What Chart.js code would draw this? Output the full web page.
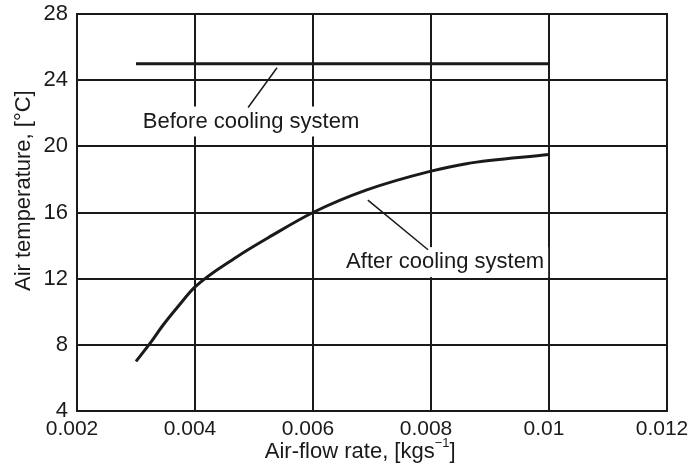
<!DOCTYPE html>
<html>
<head>
<meta charset="utf-8">
<script src="https://cdn.jsdelivr.net/npm/chart.js@4/dist/chart.umd.min.js"></script>
<style>
  body { margin: 0; background: #fff; }
  canvas { display: block; }
</style>
</head>
<body>
<canvas id="tempChart" width="688" height="467"></canvas>
<script>
// values
const beforeFlow = [0.003, 0.01];
const beforeTemp = [25, 25];
const afterFlow = [0.0030, 0.00324, 0.00346, 0.00372, 0.0040, 0.0047, 0.0053, 0.0060, 0.0069, 0.0080, 0.0086, 0.0100];
const afterTemp = [7.0, 8.1, 9.2, 10.35, 11.5, 13.3, 14.6, 16.0, 17.35, 18.5, 18.95, 19.5];
const xTicks = [0.002, 0.004, 0.006, 0.008, 0.01, 0.012];
const yTicks = [4, 8, 12, 16, 20, 24, 28];

// callout labels: text position and leader line, in data units
const callouts = [
  { text: 'Before cooling system', x: 0.00495, y: 21.5, from: [0.0049, 22.35], to: [0.00539, 24.75] },
  { text: 'After cooling system', x: 0.00824, y: 13.0, from: [0.00795, 13.75], to: [0.00693, 16.75] }
];

const FONT = 'Liberation Sans, Arial, sans-serif';
const INK = '#1a1a1a';

const calloutPlugin = {
  id: 'callouts',
  afterDatasetsDraw(chart) {
    const ctx = chart.ctx;
    const xs = chart.scales.x, ys = chart.scales.y;
    const a = chart.chartArea;
    ctx.save();
    ctx.font = '22px ' + FONT;
    ctx.textAlign = 'center';
    ctx.textBaseline = 'middle';
    callouts.forEach(c => {
      const px = xs.getPixelForValue(c.x), py = ys.getPixelForValue(c.y);
      const w = ctx.measureText(c.text).width;
      ctx.fillStyle = '#fff';
      ctx.fillRect(px - w / 2 - 4, py - 15, w + 8, 30);
      ctx.fillStyle = INK;
      ctx.fillText(c.text, px, py);
      ctx.strokeStyle = INK;
      ctx.lineWidth = 1.5;
      ctx.beginPath();
      ctx.moveTo(xs.getPixelForValue(c.from[0]), ys.getPixelForValue(c.from[1]));
      ctx.lineTo(xs.getPixelForValue(c.to[0]), ys.getPixelForValue(c.to[1]));
      ctx.stroke();
    });
    // plot frame
    ctx.strokeStyle = INK;
    ctx.lineWidth = 2;
    ctx.strokeRect(a.left, a.top, a.right - a.left, a.bottom - a.top);

    // x axis title with superscript
    const main = 'Air-flow rate, [kgs', sup = '\u22121', tail = ']';
    ctx.font = '22px ' + FONT;
    const w1 = ctx.measureText(main).width, w3 = ctx.measureText(tail).width;
    ctx.font = '13px ' + FONT;
    const w2 = ctx.measureText(sup).width;
    const total = w1 + w2 + w3;
    const cx = a.left + (a.right - a.left) * 0.48;
    const by = a.bottom + 47;
    let x0 = cx - total / 2;
    ctx.textAlign = 'left';
    ctx.textBaseline = 'alphabetic';
    ctx.fillStyle = INK;
    ctx.font = '22px ' + FONT;
    ctx.fillText(main, x0, by);
    ctx.font = '13px ' + FONT;
    ctx.fillText(sup, x0 + w1, by - 11);
    ctx.font = '22px ' + FONT;
    ctx.fillText(tail, x0 + w1 + w2, by);

    // y axis title
    ctx.translate(24, a.top + (a.bottom - a.top) * 0.445);
    ctx.rotate(-Math.PI / 2);
    ctx.textAlign = 'center';
    ctx.textBaseline = 'middle';
    ctx.fillText('Air temperature, [\u00B0C]', 0, 0);
    ctx.restore();
  }
};

new Chart(document.getElementById('tempChart'), {
  type: 'scatter',
  data: {
    datasets: [
      {
        label: 'Before cooling system',
        data: beforeFlow.map((x, i) => ({ x: x, y: beforeTemp[i] })),
        showLine: true,
        borderColor: INK,
        borderWidth: 3,
        pointRadius: 0
      },
      {
        label: 'After cooling system',
        data: afterFlow.map((x, i) => ({ x: x, y: afterTemp[i] })),
        showLine: true,
        borderColor: INK,
        borderWidth: 3,
        pointRadius: 0,
        cubicInterpolationMode: 'monotone'
      }
    ]
  },
  options: {
    responsive: false,
    animation: false,
    layout: { padding: { left: 0, top: 14, right: 21, bottom: 0 } },
    plugins: {
      legend: { display: false },
      tooltip: { enabled: false }
    },
    scales: {
      x: {
        type: 'linear',
        min: 0.002,
        max: 0.012,
        afterBuildTicks: s => { s.ticks = xTicks.map(v => ({ value: v })); },
        afterFit: s => { s.height = 56; s.paddingLeft = 0; s.paddingRight = 0; },
        border: { display: false },
        grid: { color: INK, lineWidth: 2, drawTicks: false },
        ticks: {
          color: INK,
          padding: 6,
          labelOffset: -5,
          font: { family: FONT, size: 21 },
          callback: v => String(Number(v.toFixed(3)))
        }
      },
      y: {
        min: 4,
        max: 28,
        afterBuildTicks: s => { s.ticks = yTicks.map(v => ({ value: v })); },
        afterFit: s => { s.width = 77; s.paddingTop = 0; s.paddingBottom = 0; },
        border: { display: false },
        grid: { color: INK, lineWidth: 2, drawTicks: false },
        ticks: {
          color: INK,
          padding: 9,
          font: { family: FONT, size: 22 }
        }
      }
    }
  },
  plugins: [calloutPlugin]
});
</script>
</body>
</html>
